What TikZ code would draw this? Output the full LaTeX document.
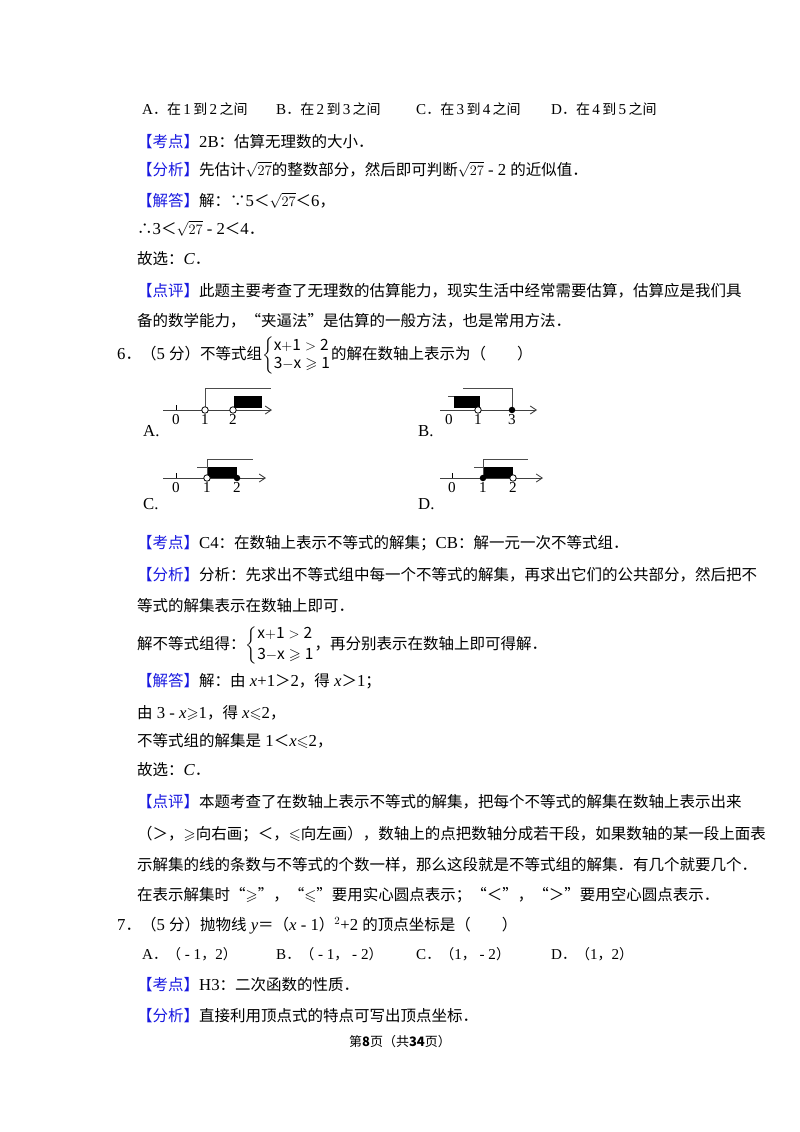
\documentclass[tikz,border=0pt]{standalone}
\usepackage{amsmath,amssymb}
\usepackage{fontspec}
\usetikzlibrary{arrows.meta}
\setmainfont{Noto Sans CJK SC}
\newfontfamily\en[Scale=1.08]{Liberation Serif}
\newcommand{\N}[1]{{\en #1}}
\newcommand{\lbl}[1]{\textcolor{kblue}{【#1】}}
\newcommand{\rt}{$\sqrt{27}$}
\definecolor{kblue}{RGB}{25,25,225}
\begin{document}
\begin{tikzpicture}[x=1pt,y=-1pt,
  txt/.style={anchor=base west,inner sep=0pt,font=\fontsize{15.5}{18}\selectfont},
  opt/.style={anchor=base west,inner sep=0pt,font=\fontsize{14}{16}\selectfont},
  axis/.style={line width=0.9pt,color=black!75,-{Straight Barb[length=6pt,width=8pt]}},
  tk/.style={line width=0.8pt},
  brk/.style={line width=1pt,color=black!70},
  nl/.style={inner sep=0pt,font=\en\fontsize{14}{14}\selectfont,anchor=north},
  opendot/.style={circle,draw,fill=white,inner sep=0pt,minimum size=6.5pt,line width=0.8pt},
  fulldot/.style={circle,fill=black,inner sep=0pt,minimum size=6.5pt}]
\useasboundingbox (0,0) rectangle (800,1132);
\fill[white] (0,0) rectangle (800,1132);
% line 1
\node[opt] (a1) at (142,114) {\N{A}．在\,\N{1}\,到\,\N{2}\,之间};
\node[opt] (b1) at (276,114) {\N{B}．在\,\N{2}\,到\,\N{3}\,之间};
\node[opt] (c1) at (416,114) {\N{C}．在\,\N{3}\,到\,\N{4}\,之间};
\node[opt] (d1) at (551,114) {\N{D}．在\,\N{4}\,到\,\N{5}\,之间};
\node[txt] (l2) at (137,147) {\lbl{考点}\N{2B}：估算无理数的大小．};
\node[txt] (l3) at (137,175) {\lbl{分析}先估计\rt 的整数部分，然后即可判断\rt\N{ - 2 }的近似值．};
\node[txt] (l4) at (137,206) {\lbl{解答}解：∵\N{5}＜\rt＜\N{6}，};
\node[txt] (l5) at (137,234) {∴\N{3}＜\rt\N{ - 2}＜\N{4}．};
\node[txt] (l6) at (137,264) {故选：\N{\itshape C}．};
\node[txt] (l7) at (137,296) {\lbl{点评}此题主要考查了无理数的估算能力，现实生活中经常需要估算，估算应是我们具};
\node[txt] (l8) at (137,326) {备的数学能力，“夹逼法”是估算的一般方法，也是常用方法．};
\node[txt] (l9) at (117,359) {\N{6}．（\N{5 }分）不等式组$\left\{\begin{array}{@{}l@{}}\mathrm{x{+}1>2}\\ \mathrm{3{-}x\geqslant1}\end{array}\right.$的解在数轴上表示为（\hspace{2em}）};
% number lines
\node[txt] (la) at (143,436) {\N{A.}};
\node[txt] (lb) at (418,436) {\N{B.}};
\node[txt] (lc) at (143,509) {\N{C.}};
\node[txt] (ld) at (418,509) {\N{D.}};
% A
\fill (234,396) rectangle (262,408);
\draw[axis] (163,410) -- (272,410);
\draw[tk] (176,410) -- (176,405);
\draw[brk] (205,410) -- (205,388) -- (271,388);
\node[opendot] (pa1) at (205,410) {};
\node[opendot] (pa2) at (233,410) {};
\node[nl] at (176,414) {0}; \node[nl] at (205,414) {1}; \node[nl] at (233,414) {2};
% B
\fill (454,396) rectangle (480,408);
\draw[brk] (448,396) -- (454,396);
\draw[axis] (440,410) -- (537,410);
\draw[brk] (512,410) -- (512,388) -- (463,388);
\node[opendot] (pb1) at (478,410) {};
\node[fulldot] (pb3) at (512,410) {};
\node[nl] at (449,414) {0}; \node[nl] at (478,414) {1}; \node[nl] at (512,414) {3};
% C
\fill (207,467) rectangle (237,478);
\draw[brk] (197,467) -- (207,467);
\draw[axis] (163,478) -- (266,478);
\draw[tk] (176,478) -- (176,473);
\draw[brk] (207,478) -- (207,459) -- (253,459);
\node[opendot] (pc1) at (207,478) {};
\node[fulldot] (pc2) at (237,478) {};
\node[nl] at (176,482) {0}; \node[nl] at (207,482) {1}; \node[nl] at (237,482) {2};
% D
\fill (483,467) rectangle (513,478);
\draw[brk] (474,467) -- (483,467);
\draw[axis] (440,478) -- (543,478);
\draw[tk] (452,478) -- (452,473);
\draw[brk] (483,478) -- (483,459) -- (528,459);
\node[fulldot] (pd1) at (483,478) {};
\node[opendot] (pd2) at (513,478) {};
\node[nl] at (452,482) {0}; \node[nl] at (483,482) {1}; \node[nl] at (513,482) {2};
% rest
\node[txt] (l10) at (137,548) {\lbl{考点}\N{C4}：在数轴上表示不等式的解集；\N{CB}：解一元一次不等式组．};
\node[txt] (l11) at (137,580) {\lbl{分析}分析：先求出不等式组中每一个不等式的解集，再求出它们的公共部分，然后把不};
\node[txt] (l12) at (137,611) {等式的解集表示在数轴上即可．};
\node[txt] (l13) at (137,649) {解不等式组得：$\left\{\begin{array}{@{}l@{}}\mathrm{x{+}1>2}\\[3pt] \mathrm{3{-}x\geqslant1}\end{array}\right.$，再分别表示在数轴上即可得解．};
\node[txt] (l14) at (137,686) {\lbl{解答}解：由\N{ \itshape x}\N{+1}＞\N{2}，得\N{ \itshape x}＞\N{1}；};
\node[txt] (l15) at (137,718) {由\N{ 3 - }\N{\itshape x}$\geqslant$\N{1}，得\N{ \itshape x}$\leqslant$\N{2}，};
\node[txt] (l16) at (137,746) {不等式组的解集是\N{ 1}＜\N{\itshape x}$\leqslant$\N{2}，};
\node[txt] (l17) at (137,775) {故选：\N{\itshape C}．};
\node[txt] (l18) at (137,807) {\lbl{点评}本题考查了在数轴上表示不等式的解集，把每个不等式的解集在数轴上表示出来};
\node[txt] (l19) at (137,839) {（＞，$\geqslant$向右画；＜，$\leqslant$向左画），数轴上的点把数轴分成若干段，如果数轴的某一段上面表};
\node[txt] (l20) at (137,870) {示解集的线的条数与不等式的个数一样，那么这段就是不等式组的解集．有几个就要几个．};
\node[txt] (l21) at (137,900) {在表示解集时“$\geqslant$”，“$\leqslant$”要用实心圆点表示；“＜”，“＞”要用空心圆点表示．};
\node[txt] (l22) at (117,930) {\N{7}．（\N{5 }分）抛物线\N{ \itshape y}＝（\N{\itshape x}\N{ - 1}）$^{2}$\N{+2 }的顶点坐标是（\hspace{2em}）};
\node[opt] (a2) at (142,959) {\N{A}．（\N{ - 1}，\N{2}）};
\node[opt] (b2) at (276,959) {\N{B}．（\N{ - 1}，\N{ - 2}）};
\node[opt] (c2) at (416,959) {\N{C}．（\N{1}，\N{ - 2}）};
\node[opt] (d2) at (551,959) {\N{D}．（\N{1}，\N{2}）};
\node[txt] (l24) at (137,990) {\lbl{考点}\N{H3}：二次函数的性质．};
\node[txt] (l25) at (137,1021) {\lbl{分析}直接利用顶点式的特点可写出顶点坐标．};
\node[inner sep=0pt,font=\fontsize{13}{14}\selectfont] (ft) at (400,1042) {第\textbf{8}页（共\textbf{34}页）};
\end{tikzpicture}
\end{document}
